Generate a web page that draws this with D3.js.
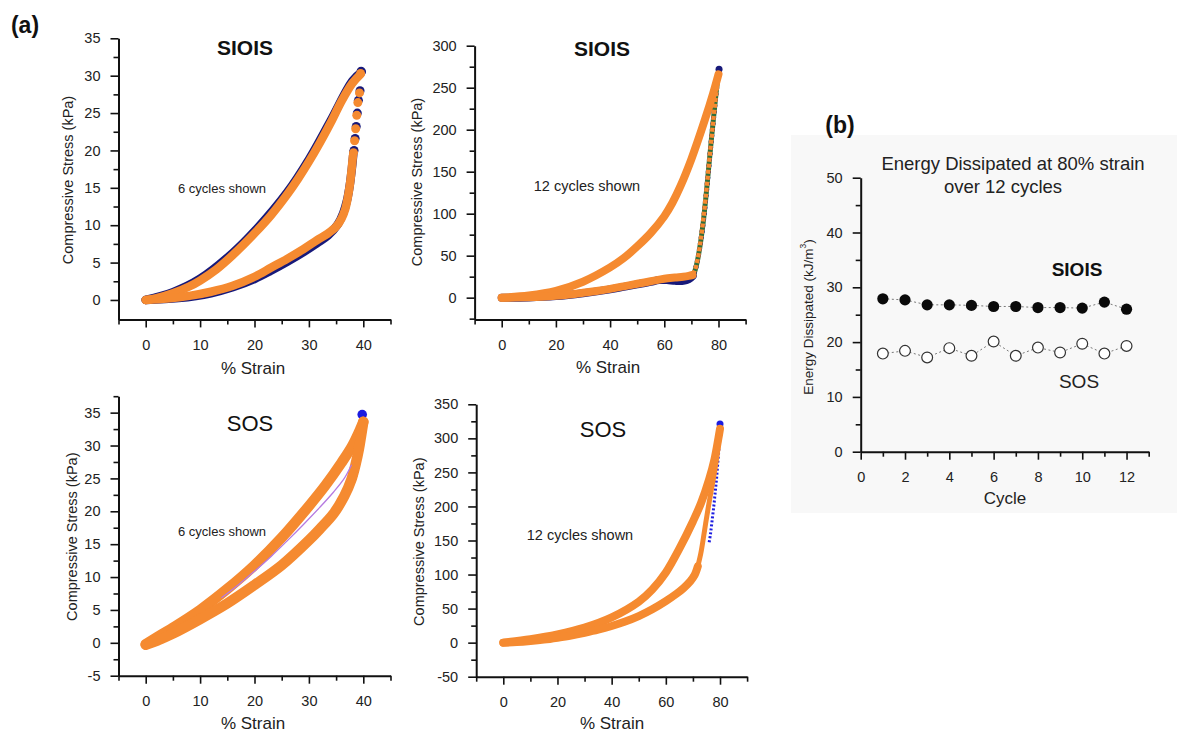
<!DOCTYPE html>
<html>
<head>
<meta charset="utf-8">
<script src="https://cdn.jsdelivr.net/npm/d3@7"></script>
<style>
  html, body { margin: 0; padding: 0; background: #fff; }
  svg { display: block; font-family: "Liberation Sans", Arial, Helvetica, sans-serif; }
</style>
</head>
<body>
<svg id="fig" width="1177" height="734"></svg>
<script>
// ---------------- data: [strain %, stress kPa] ----------------

// SIOIS, cycled to 40 % strain
const sioisLowFirstLoad   = [[0,0],[5,1.05],[10,2.85],[16,6.3],[20,9.2],[26,14.4],[30,18.8],[34,24.0],[38,29.3],[39.7,30.5]];
const sioisLowFirstUnload = [[38.2,19.8],[37.9,17.6],[37.5,15.3],[37.0,13.3],[36.3,11.6],[35.3,10.1],[33.5,8.6],[31.5,7.6],[29,6.4],[26,5.1],[23,3.9],[20,2.8],[16,1.7],[12,0.9],[6,0.25],[0,0]];
const sioisLowFirstDrop   = [[39.6,30.6],[39.4,28.0],[39.1,26.7],[38.9,25.0],[38.7,23.2],[38.5,21.6],[38.3,20.0]];
const sioisLowLoad   = [[0,0],[2,0.25],[5,0.9],[8,1.8],[10,2.6],[13,4.1],[16,6.0],[20,8.9],[23,11.3],[26,14.1],[28,16.2],[30,18.5],[32,21.0],[34,23.7],[36,26.6],[38,29.0],[39.5,30.2]];
const sioisLowDrop   = [[39.5,30.3],[39.3,27.7],[39.0,26.4],[38.8,24.7],[38.6,22.9],[38.4,21.3],[38.2,19.7]];
const sioisLowUnload = [[38.1,19.3],[37.9,17.8],[37.6,15.8],[37.2,13.9],[36.7,12.2],[36.0,10.9],[35,9.8],[33.5,8.9],[31.5,8.0],[29,6.8],[26,5.5],[23,4.3],[20,3.1],[16,1.9],[12,1.1],[8,0.55],[4,0.2],[0,0]];

// SIOIS, cycled to 80 % strain
const sioisHighFirstUnload = [[70.5,26],[69,22],[67,20],[64,20],[61,21],[58,21],[55,18.8],[50,15.8],[45,12.8],[40,9.9],[30,5.3],[20,1.9],[10,0.3],[0,0]];
const sioisHighFirstDrop   = [[80.2,272],[79.2,246],[78.3,218],[77.3,186],[76.3,152],[75.3,118],[74.3,88],[73.2,62],[72.1,42],[71,29],[70.3,25]];
const sioisHighLoad   = [[0,0],[10,2.5],[20,8],[30,19],[40,36],[45,47],[50,61],[55,77],[60,97],[63,113],[66,133],[70,165],[75,212],[78,243],[80,266]];
const sioisHighDrop   = [[80,266],[79.1,242],[78.2,215],[77.2,183],[76.2,150],[75.2,117],[74.2,88],[73.2,63],[72.2,44],[71.2,32],[70.4,27]];
const sioisHighUnload = [[70.4,27],[69,26],[67,25],[64,24],[60,22.5],[55,19.5],[50,16.5],[45,13.5],[40,10.5],[35,8],[30,5.8],[25,3.8],[20,2.3],[15,1.2],[10,0.5],[5,0.1],[0,0]];

// SOS, cycled to 40 % strain
const sosLowInnerEdge  = [[14,6.9],[17,8.8],[20,10.9],[23,13.1],[26,15.5],[29,18.0],[32,20.6],[34.5,22.9],[36.5,25.0],[37.8,27.0]];
const sosLowFirstEdge  = [[40.1,33.4],[40.0,31.6],[39.7,29.8],[39.4,27.9],[39.0,26.3],[38.5,24.8],[37.6,23.2],[36.4,21.6],[35,20.2],[33.5,19.0],[32,17.8],[30.5,16.6]];
const sosLowFirstPeak  = [[39.8,34.7]];
const sosLowLoad   = [[0,-0.2],[2,0.8],[5,2.3],[10,5.0],[15,8.2],[20,11.8],[25,16.0],[30,20.8],[33,23.9],[36,27.4],[38,30.0],[39.5,32.6],[40,33.6]];
const sosLowUnload = [[40,33.6],[39.6,31.5],[39.2,29.5],[38.6,27.2],[37.8,24.8],[36.5,22.3],[34.5,19.6],[32,17.3],[30,15.6],[25,11.8],[20,8.8],[15,6.0],[10,3.6],[5,1.4],[2,0.3],[0,-0.3]];

// SOS, cycled to 80 % strain
const sosHighFirstDrop = [[80.1,320],[79.8,300],[79.5,280],[79.1,260],[78.7,240],[78.2,220],[77.7,200],[77.1,180],[76.5,160],[75.9,145]];
const sosHighFirstPeak = [[80,321]];
const sosHighLoad   = [[0,0],[10,5],[20,12],[30,22],[40,37],[50,60],[55,78],[60,103],[65,138],[70,178],[73,205],[76,240],[78,270],[79.4,300],[80,314]];
const sosHighDrop   = [[80,314],[79.3,288],[78.5,264],[77.6,242],[76.6,220],[75.6,197],[74.7,175],[73.8,152],[72.9,131],[71.8,112]];
const sosHighUnload = [[71.8,112],[70.6,99],[69,90],[66.5,80],[64,72],[60,61],[55,49],[50,39],[45,31],[40,24.5],[35,19],[30,14.5],[25,10.5],[20,7.3],[15,4.5],[10,2.4],[5,0.8],[0,0]];

// Energy dissipated at 80 % strain, per cycle (kJ/m^3)
const cycles      = [1,2,3,4,5,6,7,8,9,10,11,12];
const energySIOIS = [27.9,27.7,26.8,26.8,26.7,26.5,26.5,26.3,26.3,26.2,27.3,26.0];
const energySOS   = [17.9,18.4,17.2,18.9,17.5,20.1,17.5,19.0,18.1,19.7,17.9,19.3];

// tick values
const strainTicks40    = [0,10,20,30,40];
const strainMinor40    = [-5,5,15,25,35,45];
const strainTicks80    = [0,20,40,60,80];
const strainMinor80    = [-10,10,30,50,70,90];
const stressTicksA     = [0,5,10,15,20,25,30,35];
const stressMinorA     = [2.5,7.5,12.5,17.5,22.5,27.5,32.5];
const stressTicksB     = [0,50,100,150,200,250,300];
const stressMinorB     = [-25,25,75,125,175,225,275];
const stressTicksC     = [-5,0,5,10,15,20,25,30,35];
const stressMinorC     = [-2.5,2.5,7.5,12.5,17.5,22.5,27.5,32.5,37.5];
const stressTicksD     = [-50,0,50,100,150,200,250,300,350];
const stressMinorD     = [-25,25,75,125,175,225,275,325];
const cycleTicks       = [0,2,4,6,8,10,12];
const cycleMinor       = [1,3,5,7,9,11,13];
const energyTicks      = [0,10,20,30,40,50];
const energyMinor      = [5,15,25,35,45];

// ---------------- drawing ----------------
const ORANGE = "#f58a30", NAVY = "#17197a", BLUE = "#1c1ce0", GREEN = "#2f6e3a", VIOLET = "#b57ae0";
const svg = d3.select("#fig");
const plain = d => String(d);   // hyphen-minus for negatives

function makeAxes(g, x, y, o) {
  const xAxisY = y.range()[0], yAxisX = x.range()[0];
  const xa = g.append("g").attr("transform", `translate(0,${xAxisY})`);
  xa.call(d3.axisBottom(x).tickValues(o.xMajor).tickSize(8).tickSizeOuter(0).tickPadding(12).tickFormat(plain));
  const xm = g.append("g").attr("transform", `translate(0,${xAxisY})`);
  xm.call(d3.axisBottom(x).tickValues(o.xMinor).tickSize(5).tickSizeOuter(0).tickFormat(""));
  xm.select(".domain").remove();
  const ya = g.append("g").attr("transform", `translate(${yAxisX},0)`);
  ya.call(d3.axisLeft(y).tickValues(o.yMajor).tickSize(8).tickSizeOuter(0).tickPadding(10).tickFormat(plain));
  const ym = g.append("g").attr("transform", `translate(${yAxisX},0)`);
  ym.call(d3.axisLeft(y).tickValues(o.yMinor).tickSize(5).tickSizeOuter(0).tickFormat(""));
  ym.select(".domain").remove();
  g.selectAll(".domain").attr("stroke", "#111").attr("stroke-width", 2);
  g.selectAll(".tick line").attr("stroke", "#111").attr("stroke-width", 1.6);
  g.selectAll(".tick text").attr("fill", "#222").style("font-size", "14.5px")
    .style("font-family", '"Liberation Sans", Arial, sans-serif');
}

function label(g, txt, cx, cy, size, opts = {}) {
  const t = g.append("text").attr("x", cx).attr("y", cy)
    .attr("text-anchor", "middle").attr("dominant-baseline", "central")
    .attr("fill", opts.fill || "#222").style("font-size", size + "px")
    .style("font-weight", opts.bold ? "bold" : "normal").text(txt);
  if (opts.rotate) t.attr("transform", `rotate(-90,${cx},${cy})`);
  return t;
}

function strokeCurve(g, x, y, data, color, width, dash) {
  const line = d3.line().x(d => x(d[0])).y(d => y(d[1])).curve(d3.curveCatmullRom.alpha(0.5));
  const p = g.append("path").datum(data).attr("d", line).attr("fill", "none")
    .attr("stroke", color).attr("stroke-width", width)
    .attr("stroke-linecap", dash ? "butt" : "round").attr("stroke-linejoin", "round");
  if (dash) p.attr("stroke-dasharray", dash);
  return p;
}

function dots(g, x, y, data, color, r) {
  g.append("g").selectAll("circle").data(data).join("circle")
    .attr("cx", d => x(d[0])).attr("cy", d => y(d[1])).attr("r", r).attr("fill", color);
}

function hysteresisPanel(o) {
  const g = svg.append("g");
  const x = d3.scaleLinear().domain(o.xDomain).range(o.xRange);
  const y = d3.scaleLinear().domain(o.yDomain).range(o.yRange);
  makeAxes(g, x, y, o);
  const plot = g.append("g");
  o.draw(plot, x, y);
  label(g, o.title, o.titlePos[0], o.titlePos[1], o.titleSize, { bold: o.titleBold, fill: "#111" });
  label(g, o.note, o.notePos[0], o.notePos[1], o.noteSize);
  label(g, "Compressive Stress (kPa)", o.yLabelPos[0], o.yLabelPos[1], 14.5, { rotate: true });
  label(g, "% Strain", o.xLabelPos[0], o.xLabelPos[1], 17);
}

// panel label
label(svg, "(a)", 25, 25, 23, { bold: true, fill: "#111" });

// SIOIS 40 %
hysteresisPanel({
  xDomain: [-5, 45], xRange: [118.5, 390.5], yDomain: [-2.6, 35], yRange: [319.4, 38.3],
  xMajor: strainTicks40, xMinor: strainMinor40, yMajor: stressTicksA, yMinor: stressMinorA,
  title: "SIOIS", titlePos: [245, 47], titleSize: 21, titleBold: true,
  note: "6 cycles shown", notePos: [222, 188], noteSize: 13,
  yLabelPos: [68, 180], xLabelPos: [253, 368],
  draw(p, x, y) {
    strokeCurve(p, x, y, sioisLowFirstLoad, NAVY, 8.5);
    strokeCurve(p, x, y, sioisLowFirstUnload, NAVY, 8.5);
    dots(p, x, y, sioisLowFirstDrop, NAVY, 4.5);
    strokeCurve(p, x, y, sioisLowLoad, ORANGE, 8.5);
    strokeCurve(p, x, y, sioisLowUnload, ORANGE, 8.5);
    dots(p, x, y, sioisLowDrop, ORANGE, 4.5);
  }
});

// SIOIS 80 %
hysteresisPanel({
  xDomain: [-10, 90], xRange: [474.6, 745.6], yDomain: [-26, 300], yRange: [319.5, 45.7],
  xMajor: strainTicks80, xMinor: strainMinor80, yMajor: stressTicksB, yMinor: stressMinorB,
  title: "SIOIS", titlePos: [602, 48], titleSize: 21, titleBold: true,
  note: "12 cycles shown", notePos: [587, 186], noteSize: 14.5,
  yLabelPos: [417, 182], xLabelPos: [608, 367],
  draw(p, x, y) {
    strokeCurve(p, x, y, sioisHighFirstUnload, NAVY, 8);
    strokeCurve(p, x, y, sioisHighFirstDrop, GREEN, 5);
    strokeCurve(p, x, y, sioisHighFirstDrop, NAVY, 5, "2 4");
    dots(p, x, y, [sioisHighFirstDrop[0]], NAVY, 3.5);
    strokeCurve(p, x, y, sioisHighLoad, ORANGE, 8);
    strokeCurve(p, x, y, sioisHighUnload, ORANGE, 8);
    strokeCurve(p, x, y, sioisHighDrop, ORANGE, 4.5, "4 2");
  }
});

// SOS 40 %
hysteresisPanel({
  xDomain: [-5, 45], xRange: [118.5, 390.5], yDomain: [-5, 37.5], yRange: [675.7, 396.2],
  xMajor: strainTicks40, xMinor: strainMinor40, yMajor: stressTicksC, yMinor: stressMinorC,
  title: "SOS", titlePos: [250, 423], titleSize: 22, titleBold: false,
  note: "6 cycles shown", notePos: [222, 531], noteSize: 13,
  yLabelPos: [71.7, 536.7], xLabelPos: [253, 723],
  draw(p, x, y) {
    strokeCurve(p, x, y, sosLowFirstEdge, BLUE, 2.2, "2 2");
    dots(p, x, y, sosLowFirstPeak, BLUE, 4.8);
    strokeCurve(p, x, y, sosLowLoad, ORANGE, 10.5);
    strokeCurve(p, x, y, sosLowUnload, ORANGE, 10.5);
    strokeCurve(p, x, y, sosLowInnerEdge, VIOLET, 1.3);
  }
});

// SOS 80 %
hysteresisPanel({
  xDomain: [-10, 90], xRange: [476.2, 747.1], yDomain: [-50, 350], yRange: [676.7, 404.3],
  xMajor: strainTicks80, xMinor: strainMinor80, yMajor: stressTicksD, yMinor: stressMinorD,
  title: "SOS", titlePos: [603, 429], titleSize: 22, titleBold: false,
  note: "12 cycles shown", notePos: [580, 535], noteSize: 14.5,
  yLabelPos: [419, 541.7], xLabelPos: [612, 723],
  draw(p, x, y) {
    strokeCurve(p, x, y, sosHighFirstDrop, BLUE, 3, "2 2");
    dots(p, x, y, sosHighFirstPeak, BLUE, 3.5);
    strokeCurve(p, x, y, sosHighLoad, ORANGE, 8);
    strokeCurve(p, x, y, sosHighUnload, ORANGE, 8);
    strokeCurve(p, x, y, sosHighDrop, ORANGE, 5);
  }
});

// ---------------- (b) energy dissipated ----------------
(function () {
  svg.append("rect").attr("x", 791).attr("y", 135).attr("width", 386).attr("height", 378).attr("fill", "#f8f8f8");
  label(svg, "(b)", 840, 125, 23, { bold: true, fill: "#111" });
  const g = svg.append("g");
  const x = d3.scaleLinear().domain([0, 13]).range([860.7, 1148.7]);
  const y = d3.scaleLinear().domain([0, 50]).range([451.7, 177.7]);
  makeAxes(g, x, y, { xMajor: cycleTicks, xMinor: cycleMinor, yMajor: energyTicks, yMinor: energyMinor });

  const line = d3.line().x((d, i) => x(cycles[i])).y(d => y(d));
  [energySIOIS, energySOS].forEach(s => {
    g.append("path").datum(s).attr("d", line).attr("fill", "none")
      .attr("stroke", "#7a7a7a").attr("stroke-width", 1).attr("stroke-dasharray", "2 2.5");
  });
  g.append("g").selectAll("circle").data(energySIOIS).join("circle")
    .attr("cx", (d, i) => x(cycles[i])).attr("cy", d => y(d)).attr("r", 5.6).attr("fill", "#0a0a0a");
  g.append("g").selectAll("circle").data(energySOS).join("circle")
    .attr("cx", (d, i) => x(cycles[i])).attr("cy", d => y(d)).attr("r", 5.4)
    .attr("fill", "#fff").attr("stroke", "#333").attr("stroke-width", 1.2);

  label(g, "Energy Dissipated at 80% strain", 1013, 163, 18.5);
  label(g, "over 12 cycles", 1003, 186, 18.5);
  label(g, "SIOIS", 1077, 269, 19, { bold: true, fill: "#111" });
  label(g, "SOS", 1079, 381, 19);
  label(g, "Cycle", 1005, 498, 17);
  const yl = label(g, "Energy Dissipated (kJ/m", 808, 317, 13.5, { rotate: true });
  yl.append("tspan").attr("baseline-shift", "super").style("font-size", "8.5px").text("3");
  yl.append("tspan").text(")");
})();
</script>
</body>
</html>
